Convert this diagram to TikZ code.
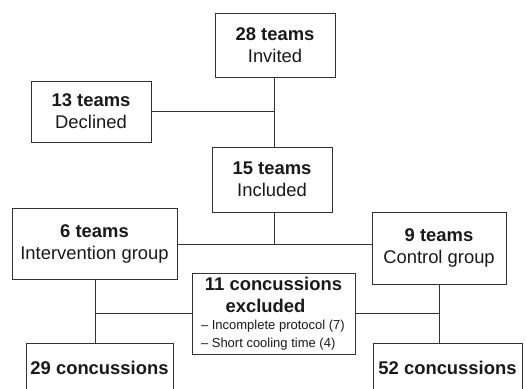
\documentclass[tikz,border=0pt]{standalone}
\usepackage{fontspec}
\setmainfont{Liberation Sans}
\usepackage{xcolor}
\usetikzlibrary{positioning}
\newcommand{\bigtxt}{\fontsize{18.4}{22}\selectfont}
\newcommand{\smalltxt}{\fontsize{13}{17.6}\selectfont}
\begin{document}
\begin{tikzpicture}[x=1pt,y=-1pt,every node/.append style={align=center},box/.style={draw=black!80, line width=0.9pt, inner sep=0pt, font=\bigtxt, text=black!90},
  ln/.style={draw=black!80, line width=0.9pt}]
    \clip (0,0) rectangle (526,388);
    \node [box, minimum width=120pt, minimum height=64pt] (Inv) at (275,45) {\textbf{28 teams}\\Invited};
    \node [box, minimum width=120pt, minimum height=61pt] (Dec) at (91,111.5) {\textbf{13 teams}\\Declined};
    \node [box, minimum width=120pt, minimum height=65pt] (Inc) at (272,179.5) {\textbf{15 teams}\\Included};
    \node [box, minimum width=165pt, minimum height=71pt] (Int) at (94.5,243.5) {\textbf{6 teams}\\Intervention group};
    \node [box, minimum width=134pt, minimum height=72pt] (Con) at (439,248) {\textbf{9 teams}\\Control group};
    \node [box, minimum width=163pt, minimum height=81pt] (Exc) at (273.5,313.5) {\parbox{145pt}{\centering\bfseries 11 concussions\hspace*{16pt}\\excluded\hspace*{16pt}\par
      \raggedright\mdseries\smalltxt -- Incomplete protocol (7)\\-- Short cooling time (4)}};
    \node [box, minimum width=147pt, minimum height=48pt, anchor=north] (C29) at (99.5,343) {\textbf{29 concussions}};
    \node [box, minimum width=149pt, minimum height=48pt, anchor=north] (C52) at (447.5,343) {\textbf{52 concussions}};
    \coordinate (trunk) at (274,111.5);
    \coordinate (split) at (274,244);
    \coordinate (lbranch) at (95,313.5);
    \coordinate (rbranch) at (439,313.5);
    \draw [ln] (Inv.south -| trunk) -- (Inc.north -| trunk);
    \draw [ln] (Dec.east) -- (trunk);
    \draw [ln] (Inc.south -| split) -- (split);
    \draw [ln] (Int.east |- split) -- (Con.west |- split);
    \draw [ln] (Int.south -| lbranch) -- (C29.north -| lbranch);
    \draw [ln] (Con.south -| rbranch) -- (C52.north -| rbranch);
    \draw [ln] (Exc.west) -- (lbranch);
    \draw [ln] (Exc.east) -- (rbranch);
\end{tikzpicture}
\end{document}
